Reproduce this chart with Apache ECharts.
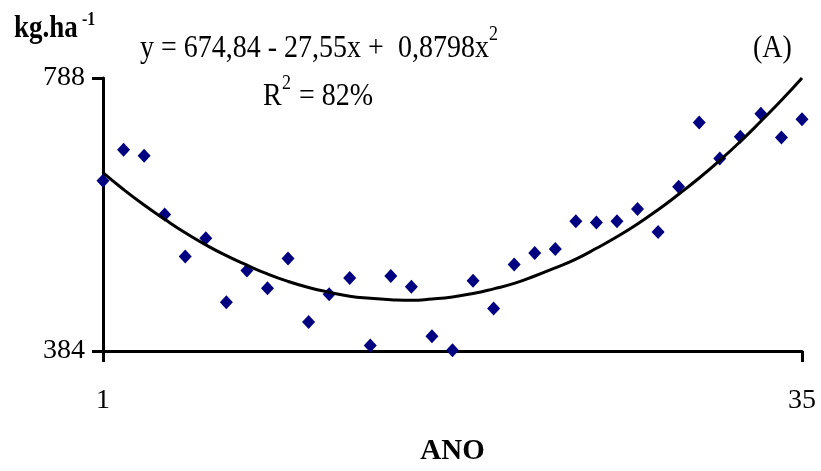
<!DOCTYPE html>
<html>
<head>
<meta charset="utf-8">
<script src="https://cdn.jsdelivr.net/npm/echarts@6/dist/echarts.min.js"></script>
<style>
  html, body { margin: 0; padding: 0; background: #fff; }
  #chart { width: 821px; height: 471px; }
</style>
</head>
<body>
<div id="chart"></div>
<script>
// anos 1..35
var anos = [1, 2, 3, 4, 5, 6, 7, 8, 9, 10, 11, 12, 13, 14, 15, 16, 17, 18,
	19, 20, 21, 22, 23, 24, 25, 26, 27, 28, 29, 30, 31, 32, 33, 34, 35];
var observado = [636, 682, 673, 586, 524, 551, 456, 503, 477, 521, 427, 468,
	492, 392, 495, 479, 406, 385, 488, 447, 512, 529, 535, 576, 574, 576, 594,
	560, 627, 722, 669, 701, 735, 700, 727];
// linha de tendencia (polinomial)
var tendencia = [648, 623, 600, 579, 559, 541, 525, 511, 498, 487, 478, 471,
	465, 462, 460, 459, 461, 464, 469, 476, 484, 495, 507, 520, 536, 553, 572,
	593, 616, 640, 666, 694, 724, 755, 788];
var xTicks = [1, 35];
var yTicks = [384, 788];

var fonte = '"Liberation Serif", "Times New Roman", serif';

var pontos = anos.map(function(a, i){ return [a, observado[i]]; });
var curva = anos.map(function(a, i){ return [a, tendencia[i]]; });

function texto(x, y, t, size, bold){
	return { type: 'text', x: x, y: y, scaleY: 1.15, style: {
		text: t, fontFamily: fonte, fontSize: size, fontWeight: bold ? 'bold' : 'normal', fill: '#000'
	}};
}

var myChart = echarts.init(document.getElementById('chart'));
myChart.setOption({
	animation: false,
	backgroundColor: '#fff',
	grid: { left: 103, right: 19, top: 78, bottom: 119 },
	xAxis: {
		type: 'value',
		min: 1,
		max: 35,
		name: 'ANO',
		nameLocation: 'middle',
		nameGap: 86,
		nameTextStyle: { fontFamily: fonte, fontSize: 29, fontWeight: 'bold', color: '#000' },
		axisLine: { lineStyle: { color: '#000', width: 3 } },
		axisTick: { show: true, length: 11, lineStyle: { color: '#000', width: 3 }, customValues: xTicks },
		axisLabel: { customValues: xTicks, margin: 36, fontFamily: fonte, fontSize: 28, color: '#000' },
		splitLine: { show: false }
	},
	yAxis: {
		type: 'value',
		min: 384,
		max: 788,
		axisLine: { show: true, lineStyle: { color: '#000', width: 3 } },
		axisTick: { show: true, length: 11, lineStyle: { color: '#000', width: 3 }, customValues: yTicks },
		axisLabel: { customValues: yTicks, margin: 18, fontFamily: fonte, fontSize: 28, color: '#000' },
		splitLine: { show: false }
	},
	graphic: [
		texto(14, 13, 'kg.ha', 27, true),
		texto(82, 11, '-1', 16, true),
		texto(140, 32, 'y = 674,84 - 27,55x +  0,8798x', 28, false),
		texto(489, 24, '2', 18, false),
		texto(263, 80, 'R', 28, false),
		texto(282, 73, '2', 18, false),
		texto(292, 80, ' = 82%', 28, false),
		texto(753, 32, '(A)', 28, false)
	],
	series: [
		{
			type: 'scatter',
			data: pontos,
			symbol: 'diamond',
			symbolSize: [13, 14],
			itemStyle: { color: '#000080', opacity: 1 },
			z: 2
		},
		{
			type: 'line',
			data: curva,
			smooth: true,
			symbol: 'none',
			lineStyle: { color: '#000', width: 3 },
			z: 3
		}
	]
});
</script>
</body>
</html>
